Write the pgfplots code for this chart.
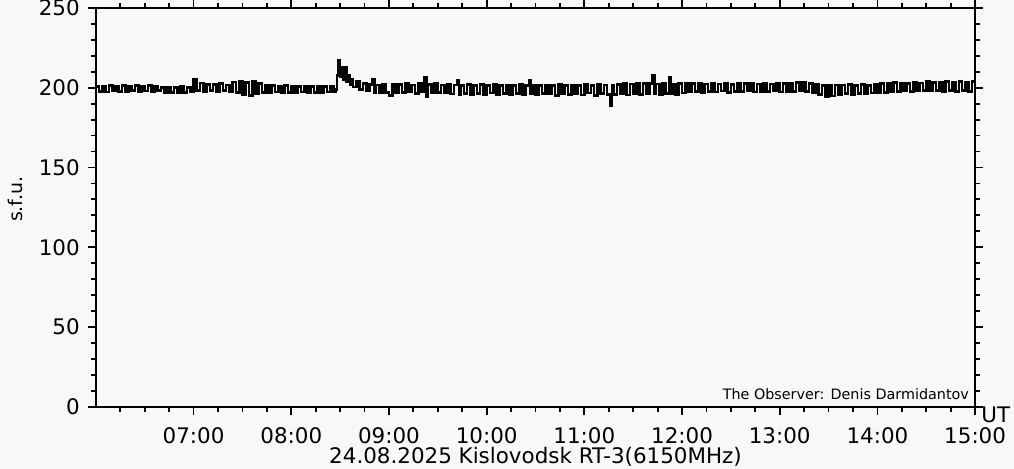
\documentclass[border=0pt]{standalone}
\usepackage{pgfplots}
\pgfplotsset{compat=1.18}
\usepackage{fontspec}
\setmainfont{DejaVu Sans}
\usepackage{xcolor}
\definecolor{bg}{HTML}{F8F8F8}
\newcommand{\bigfs}{\fontsize{21.5}{26}\selectfont}
\begin{document}
\pagecolor{bg}
\begin{tikzpicture}
\path[use as bounding box, fill=bg] (0,0) rectangle (1014pt,470pt);
\begin{axis}[
 at={(93pt,62pt)}, anchor=south west,
 scale only axis, width=882pt, height=400pt,
 xmin=0, xmax=540, ymin=0, ymax=250,
 axis line style={line width=1.8pt},
 every tick/.style={black, line width=1.8pt},
 major tick length=8pt, minor tick length=5pt,
 tick align=outside, tick pos=both,
 xtick={60,120,...,540},
 xticklabels={07:00,08:00,09:00,10:00,11:00,12:00,13:00,14:00,15:00},
 minor xtick={15,30,...,540},
 ytick={0,50,...,250},
 yticklabels={0,50,100,150,200,250},
 minor ytick={10,20,...,250},
 tick label style={font=\bigfs},
 xticklabel style={inner sep=0pt, anchor=north, yshift=-13pt},
 yticklabel style={inner sep=0pt, anchor=east, xshift=-8pt},
]
\addplot[black, line width=2.7pt, const plot, line join=miter] coordinates {
(0,200.8)(2,197.8)(4,200.6)(6,197.3)(8,201.2)(10,198.0)(12,201.0)(14,197.5)(16,201.5)(18,197.8)(20,200.8)(22,198.1)(24,201.6)(26,197.6)(28,200.7)(30,198.0)(32,201.3)(34,197.5)(36,201.0)(38,198.1)
(40,200.2)(42,197.0)(44,200.4)(46,197.2)(48,200.0)(50,196.8)(52,200.6)(54,197.1)(56,200.3)
(58,197.7)(60,205.5)(62,198.2)(64,203.0)(66,197.7)
(68,202.2)(70,198.2)(72,202.0)(74,197.8)(76,202.5)(78,198.3)(80,201.8)(82,197.6)
(84,203.5)(86,196.8)(88,203.7)(90,195.8)(92,203.2)(94,195.3)(96,203.9)(98,196.3)(100,202.7)
(102,197.2)(104,201.5)(106,197.0)(108,201.2)(110,197.4)(112,201.0)(114,196.8)(116,201.3)(118,197.2)(120,201.0)(122,197.0)(124,200.8)(126,197.4)(128,201.1)(130,196.7)(132,200.7)(134,197.2)(136,201.0)(138,196.9)(140,200.8)(142,197.4)(144,201.0)(146,197.7)
(147,199.0)(148,207.5)(149,217.0)(150,207.0)(151,212.5)(152,205.0)(153,213.0)(154,203.5)(155,207.5)(156,202.0)(157,205.5)(158,200.5)(160,204.0)(162,199.0)(164,202.7)(166,198.0)(168,202.2)(170,205.5)(171,196.8)(172,201.8)(174,197.0)(176,202.1)(178,197.2)
(180,195.0)(182,202.0)(184,197.2)(186,202.2)(188,196.8)(190,202.7)(192,197.4)(194,201.8)(196,196.3)(198,202.9)(200,197.7)(202,206.5)(203,194.5)(204,202.2)(206,197.0)(208,202.5)(210,197.2)(212,201.8)(214,196.8)(216,202.1)
(218,196.0)(220,201.8)(222,204.5)(223,195.8)(224,201.5)(226,196.2)(228,202.0)(230,195.7)(232,201.4)(234,196.4)(236,201.9)(238,195.9)(240,201.5)(242,196.6)(244,202.2)(246,195.5)(248,201.3)(250,196.2)(252,201.8)(254,195.9)(256,201.2)(258,196.5)(260,201.9)(262,195.8)(264,201.5)(266,204.8)(267,196.2)(268,201.8)(270,195.7)(272,201.4)(274,196.4)(276,201.8)(278,196.0)(280,201.3)(282,195.3)(284,202.0)(286,196.3)(288,201.5)(290,195.8)(292,201.8)(294,196.2)(296,201.4)(298,195.5)(300,202.1)(302,196.6)(304,201.6)(306,195.3)(308,201.9)(310,196.2)(312,201.7)(314,195.6)(316,188.5)(317,201.8)(318,195.9)(320,202.2)
(322,196.0)(324,202.7)(326,195.5)(328,202.3)(330,196.2)(332,202.9)(334,195.8)(336,202.5)(338,196.0)(340,202.7)(342,208.0)(343,196.2)(344,202.4)(346,195.7)(348,202.8)(350,196.4)(352,206.2)(353,196.2)(354,202.3)(356,195.9)(358,202.7)(360,196.6)
(362,202.7)(364,197.4)(366,202.5)(368,197.8)(370,202.9)(372,197.2)(374,202.3)(376,197.7)(378,202.7)(380,197.4)(382,202.4)(384,198.0)(386,202.8)(388,197.2)(390,202.2)(392,197.8)(394,202.7)(396,197.5)(398,202.5)(400,197.9)(402,202.9)(404,197.3)(406,202.3)(408,197.7)(410,202.7)(412,197.6)(414,202.4)(416,198.0)(418,203.0)(420,197.4)(422,202.5)(424,197.8)(426,202.7)(428,197.7)(430,203.1)
(432,198.0)(434,203.2)(436,197.7)(438,202.7)(440,197.0)(442,202.2)
(444,195.8)(446,201.5)(448,194.5)(450,201.2)(452,194.9)(454,201.7)(456,195.8)
(458,201.7)(460,196.2)(462,202.0)(464,195.9)(466,201.5)(468,196.4)(470,201.9)(472,196.0)(474,201.6)(476,196.6)(478,202.1)(480,196.7)
(482,202.5)(484,197.2)(486,202.7)(488,197.4)(490,203.2)(492,197.7)(494,202.9)(496,198.0)(498,202.7)(500,197.8)(502,203.3)(504,198.1)(506,203.0)
(508,198.2)(510,203.7)(512,198.0)(514,203.3)(516,198.4)(518,203.5)(520,197.8)(522,203.9)(524,198.2)(526,203.2)(528,197.6)(530,203.7)(532,198.3)(534,203.4)(536,197.8)(538,203.7)(540,198.2)
};
\end{axis}
\node[anchor=base west, inner sep=0pt, font=\bigfs] at (981pt,46pt) {UT};
\node[anchor=base east, inner sep=0pt, font=\fontsize{14.4}{17}\selectfont] at (969pt,69pt) {The Observer: Denis Darmidantov};
\node[anchor=base, inner sep=0pt, font=\fontsize{21.5}{26}\selectfont] at (534pt,5pt) {24.08.2025 Kislovodsk RT-3(6150MHz)};
\node[rotate=90, anchor=center, inner sep=0pt, font=\fontsize{19}{23}\selectfont] at (12pt,270pt) {s.f.u.};
\end{tikzpicture}
\end{document}
